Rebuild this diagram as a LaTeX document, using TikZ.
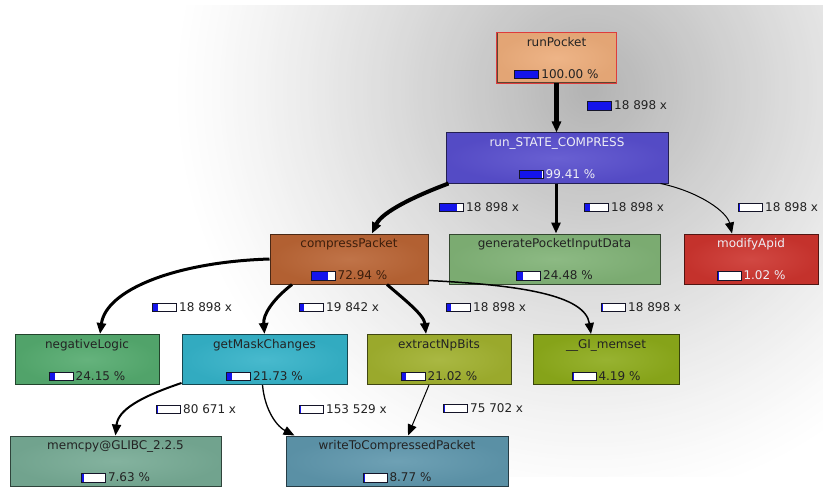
\documentclass[tikz,border=0pt]{standalone}
\usepackage{fontspec}
\setmainfont{DejaVu Sans}
\usetikzlibrary{arrows.meta}

\definecolor{barblue}{RGB}{20,20,235}
\definecolor{barframe}{RGB}{20,20,40}
\definecolor{darktext}{RGB}{35,35,35}
\definecolor{lighttext}{RGB}{238,238,245}
\definecolor{cptext}{RGB}{60,30,12}
\definecolor{rpfill}{RGB}{236,172,122}
\definecolor{rpborder}{RGB}{222,60,60}
\definecolor{rsfill}{RGB}{88,78,205}
\definecolor{cpfill}{RGB}{185,100,52}
\definecolor{gpfill}{RGB}{128,178,118}
\definecolor{mafill}{RGB}{204,52,46}
\definecolor{nlfill}{RGB}{84,170,110}
\definecolor{gmfill}{RGB}{52,178,200}
\definecolor{exfill}{RGB}{160,176,46}
\definecolor{msfill}{RGB}{140,170,26}
\definecolor{mcfill}{RGB}{118,170,148}
\definecolor{wrfill}{RGB}{94,150,172}

\newcommand\pbar[1]{{\setlength\fboxsep{0pt}\setlength\fboxrule{1pt}%
  \fcolorbox{barframe}{white}{\textcolor{barblue}{\rule{\dimexpr 23pt*#1/100\relax}{7.5pt}}\hspace{\dimexpr 23pt-23pt*#1/100\relax}}}}

\tikzset{
  fbox/.style={rectangle, minimum height=50pt, inner sep=0pt, line width=1pt},
  ftext/.style={inner sep=0pt, font=\fontsize{12}{14}\selectfont},
  elab/.style={inner sep=0pt, anchor=base west, text=darktext, font=\fontsize{12}{14}\selectfont},
  cg/.style={draw=black, -{Triangle[length=11pt,width=9pt]}},
}

% #1 name, #2 centre, #3 width, #4 fill, #5 text colour, #6 label, #7 bar %, #8 percent text
\newcommand\fnode[8]{%
  \node[fbox, inner color=#4!90!white, outer color=#4!96!black, draw=#4!40!black, minimum width=#3pt] (#1) at #2 {};
  \node[ftext, text=#5, anchor=base] (#1-n) at ([yshift=-14pt]#1.north) {#6};
  \node[ftext, text=#5, anchor=base] (#1-p) at ([yshift=5pt]#1.south) {\pbar{#7}\hspace{2pt}#8};
}

\begin{document}
\begin{tikzpicture}[x=1pt,y=-1pt]
\useasboundingbox (0,0) rectangle (823,487);
\fill[white] (0,0) rectangle (823,487);
\begin{scope}
  \clip (0,6) rectangle (823,476);
  \foreach \i in {0,...,99} {
    \pgfmathsetmacro\tt{1-\i/100}
    \pgfmathsetmacro\pp{30*(1-\tt)^1.2}
    \fill[black!\pp] (590,90) circle ({420*\tt*1pt});
  }
\end{scope}

% function nodes
\fnode{rp}{(556.5,58)}{119}{rpfill}{darktext}{runPocket}{100}{100.00 \%}
\draw[rpborder, line width=1.5pt] (rp.south west) rectangle (rp.north east);
\fnode{rs}{(557,158)}{222}{rsfill}{lighttext}{run\_STATE\_COMPRESS}{99}{99.41 \%}
\fnode{cp}{(349,259)}{158}{cpfill}{cptext}{compressPacket}{72}{72.94 \%}
\fnode{gp}{(554.5,259)}{211}{gpfill}{darktext}{generatePocketInputData}{24}{24.48 \%}
\fnode{ma}{(751,259)}{134}{mafill}{lighttext}{modifyApid}{1}{1.02 \%}
\fnode{nl}{(87,359.5)}{144}{nlfill}{darktext}{negativeLogic}{21}{24.15 \%}
\fnode{gm}{(264.5,359.5)}{165}{gmfill}{darktext}{getMaskChanges}{19}{21.73 \%}
\fnode{ex}{(439,359.5)}{144}{exfill}{darktext}{extractNpBits}{18}{21.02 \%}
\fnode{ms}{(606,359.5)}{146}{msfill}{darktext}{\_\_GI\_memset}{4}{4.19 \%}
\fnode{mc}{(115.5,461)}{211}{mcfill}{darktext}{memcpy@GLIBC\_2.2.5}{7}{7.63 \%}
\fnode{wr}{(397,461)}{222}{wrfill}{darktext}{writeToCompressedPacket}{8}{8.77 \%}

% call edges
\draw[cg, line width=5pt] (rp.south) -- (rp.south |- rs.north);
\draw[cg, line width=4pt] ([xshift=3pt]rs.south west) .. controls (415,196) and (382,212) .. ([xshift=23pt]cp.north);
\draw[cg, line width=3pt] ([xshift=-1pt]rs.south) -- ([xshift=-1pt]rs.south |- gp.north);
\draw[cg, line width=1pt] ([xshift=-8pt]rs.south east) .. controls (700,192) and (727,212) .. ([xshift=-19pt]ma.north);
\draw[cg, line width=3pt] (cp.west) .. controls (175,262) and (106,290) .. ([xshift=13pt]nl.north);
\draw[cg, line width=3pt] ([xshift=-57pt]cp.south) .. controls (272,300) and (263,315) .. (gm.north);
\draw[cg, line width=3pt] ([xshift=38pt]cp.south) .. controls (405,300) and (424,315) .. ([xshift=-13pt]ex.north);
\draw[cg, line width=1.5pt] ([yshift=4pt]cp.south east) .. controls (520,285) and (585,295) .. ([xshift=-15pt]ms.north);
\draw[cg, line width=2pt] ([yshift=2pt]gm.south west) .. controls (140,397) and (118,410) .. (mc.north);
\draw[cg, line width=1.3pt] ([xshift=-2pt]gm.south) .. controls (265,412) and (278,427) .. ([xshift=9pt]wr.north west);
\draw[cg, line width=1pt] ([xshift=-10pt]ex.south) -- ([xshift=11pt]wr.north);

% edge labels
\node[elab] (l1) at (587,110) {\pbar{100}\hspace{2pt}18 898 x};
\node[elab] (l2) at (439,211) {\pbar{73}\hspace{2pt}18 898 x};
\node[elab] (l3) at (584,211) {\pbar{22}\hspace{2pt}18 898 x};
\node[elab] (l4) at (738,211) {\pbar{2}\hspace{2pt}18 898 x};
\node[elab] (l5) at (152,311) {\pbar{22}\hspace{2pt}18 898 x};
\node[elab] (l6) at (299,311) {\pbar{16}\hspace{2pt}19 842 x};
\node[elab] (l7) at (446,311) {\pbar{16}\hspace{2pt}18 898 x};
\node[elab] (l8) at (601,311) {\pbar{3}\hspace{2pt}18 898 x};
\node[elab] (l9) at (156,413) {\pbar{5}\hspace{2pt}80 671 x};
\node[elab] (l10) at (299,413) {\pbar{4}\hspace{2pt}153 529 x};
\node[elab] (l11) at (443,412) {\pbar{4}\hspace{2pt}75 702 x};
\end{tikzpicture}
\end{document}
